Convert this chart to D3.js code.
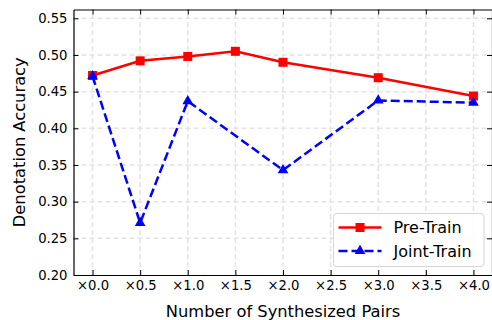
<!DOCTYPE html>
<html>
<head>
<meta charset="utf-8">
<script src="https://cdn.jsdelivr.net/npm/d3@7"></script>
<style>
  body { margin: 0; background: #fff; }
  svg { font-family: "DejaVu Sans", sans-serif; }
</style>
</head>
<body>
<svg id="chart" width="492" height="320"></svg>
<script>
const SIZES = [0, 0.5, 1, 2, 3, 4];
const PRE_TRAIN = [0.472, 0.492, 0.498, 0.505, 0.490, 0.469, 0.444];
const PRE_X = [0, 0.5, 1, 1.5, 2, 3, 4];
const JOINT_TRAIN = [0.471, 0.271, 0.437, 0.343, 0.438, 0.435];
const X_TICKS = [0, 0.5, 1, 1.5, 2, 2.5, 3, 3.5, 4];
const Y_TICKS = [0.2, 0.25, 0.3, 0.35, 0.4, 0.45, 0.5, 0.55];
const SERIES_NAMES = ["Pre-Train", "Joint-Train"];

const svg = d3.select("#chart");
const margin = { left: 73.5, top: 9.5 };

const x = d3.scaleLinear().domain([-0.2, 4.2]).range([margin.left, 492.5]);
const y = d3.scaleLinear().domain([0.2, 0.562]).range([275, margin.top]);

// grid
const grid = svg.append("g").attr("stroke", "#e3e3e3").attr("stroke-width", 1.5)
  .attr("stroke-dasharray", "5,3");
grid.selectAll(".gx").data(X_TICKS).enter().append("line")
  .attr("x1", (d) => x(d)).attr("x2", (d) => x(d))
  .attr("y1", y.range()[0]).attr("y2", y.range()[1]);
grid.selectAll(".gy").data(Y_TICKS.slice(1)).enter().append("line")
  .attr("y1", (d) => y(d)).attr("y2", (d) => y(d))
  .attr("x1", x.range()[0]).attr("x2", x.range()[1]);

// axes with inward ticks
const fmtX = (d) => "\u00d7" + d3.format(".1f")(d);
const axBottom = svg.append("g").attr("transform", `translate(0,${y(0.2)})`)
  .call(d3.axisBottom(x).tickValues(X_TICKS).tickFormat(fmtX).tickSizeInner(-5).tickSizeOuter(0).tickPadding(6));
const axTop = svg.append("g").attr("transform", `translate(0,${margin.top})`)
  .call(d3.axisTop(x).tickValues(X_TICKS).tickFormat("").tickSizeInner(-5).tickSizeOuter(0));
const axLeft = svg.append("g").attr("transform", `translate(${margin.left},0)`)
  .call(d3.axisLeft(y).tickValues(Y_TICKS).tickFormat(d3.format(".2f")).tickSizeInner(-5).tickSizeOuter(0).tickPadding(6));
const axRight = svg.append("g").attr("transform", `translate(${x.range()[1] - 0.5},0)`)
  .call(d3.axisRight(y).tickValues(Y_TICKS).tickFormat("").tickSizeInner(-5).tickSizeOuter(0));

[axBottom, axTop, axLeft, axRight].forEach((g) => {
  g.select(".domain").attr("stroke", "#000").attr("stroke-width", 1.2);
  g.selectAll(".tick line").attr("stroke", "#000").attr("stroke-width", 1);
  g.selectAll("text").attr("font-size", 13.2).attr("fill", "#000")
    .attr("font-family", "DejaVu Sans");
});
axBottom.selectAll("text").attr("dy", "0.71em");

// lines
const preData = PRE_X.map((d, i) => [d, PRE_TRAIN[i]]);
const jointData = SIZES.map((d, i) => [d, JOINT_TRAIN[i]]);
const line = d3.line().x((d) => x(d[0])).y((d) => y(d[1]));

svg.append("path").datum(preData).attr("d", line)
  .attr("fill", "none").attr("stroke", "#ff0000").attr("stroke-width", 2.5);
svg.selectAll(".sq").data(preData).enter().append("rect")
  .attr("x", (d) => x(d[0]) - 4.5).attr("y", (d) => y(d[1]) - 4.5)
  .attr("width", 9).attr("height", 9).attr("fill", "#ff0000");

svg.append("path").datum(jointData).attr("d", line)
  .attr("fill", "none").attr("stroke", "#0000ff").attr("stroke-width", 2.5)
  .attr("stroke-dasharray", "9,4");
const tri = d3.symbol().type(d3.symbolTriangle).size(50);
svg.selectAll(".tri").data(jointData).enter().append("path")
  .attr("d", tri)
  .attr("transform", (d) => `translate(${x(d[0])},${y(d[1])})`)
  .attr("fill", "#0000ff");

// axis labels
svg.append("text").attr("x", (margin.left + 492.5) / 2).attr("y", 316.5)
  .attr("text-anchor", "middle").attr("font-size", 16.3).text("Number of Synthesized Pairs");
svg.append("text").attr("transform", `translate(25,${(275 + margin.top) / 2}) rotate(-90)`)
  .attr("text-anchor", "middle").attr("font-size", 16.3).text("Denotation Accuracy");

// legend
const lg = svg.append("g").attr("transform", "translate(333.5,213.5)");
lg.append("rect").attr("width", 150.5).attr("height", 53).attr("rx", 3)
  .attr("fill", "#fff").attr("fill-opacity", 0.85).attr("stroke", "#d6d6d6");
const items = [
  { color: "#ff0000", dash: null, marker: "square" },
  { color: "#0000ff", dash: "9,4", marker: "triangle" }
];
items.forEach((it, i) => {
  const cy = 14 + i * 23.4;
  lg.append("line").attr("x1", 5).attr("x2", 48).attr("y1", cy).attr("y2", cy)
    .attr("stroke", it.color).attr("stroke-width", 2.5)
    .attr("stroke-dasharray", it.dash);
  if (it.marker === "square") {
    lg.append("rect").attr("x", 26.5 - 4.5).attr("y", cy - 4.5).attr("width", 9).attr("height", 9)
      .attr("fill", it.color);
  } else {
    lg.append("path").attr("d", tri).attr("transform", `translate(26.5,${cy})`).attr("fill", it.color);
  }
  lg.append("text").attr("x", 60).attr("y", cy).attr("dy", "0.36em")
    .attr("font-size", 16).text(SERIES_NAMES[i]);
});
</script>
</body>
</html>
